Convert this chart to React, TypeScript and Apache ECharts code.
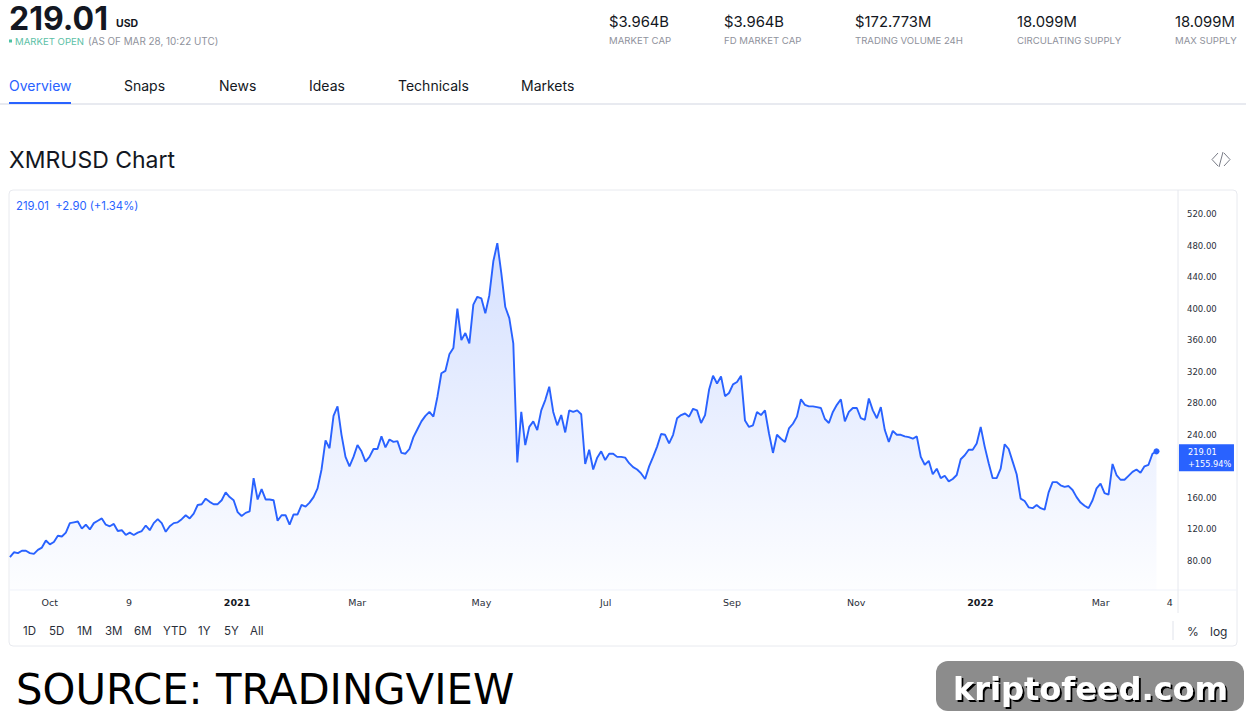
import React, { useEffect, useRef } from "react";
import * as echarts from "echarts";

const firstDate = Date.UTC(2020, 8, 11, 12);
const lastDate = Date.UTC(2022, 2, 28, 10, 22);

const pricesLate2020 = [
  85, 91, 90, 93, 93, 90, 89, 94, 97, 106,
  101, 104, 112, 111, 116, 128, 129, 130, 121, 126,
  120, 128, 131, 134, 126, 124, 127, 118, 119, 113,
  116, 113, 116, 118, 125, 119, 128, 133, 128, 117,
  124, 128, 129, 133, 138, 134, 140, 151, 152, 159,
  155, 152, 152, 157, 167, 161, 157, 142, 137, 141,
  143, 185, 158, 171, 158, 158, 157, 131, 138, 138,
  126, 139, 139, 151, 149, 154, 161, 172,
];
const pricesEarly2021 = [
  196, 233, 223, 264, 276, 240, 212, 200, 212, 227,
  219, 206, 212, 222, 222, 238, 224, 234, 231, 232,
  217, 216, 222, 237, 247, 257, 264, 269, 263, 288,
  318, 321, 342, 350, 400, 360, 369, 356, 405, 415,
  413, 394, 417, 460, 483, 445, 402, 388, 356, 205,
  269, 227, 250, 257, 246, 271, 284, 301, 269, 252,
  265, 243, 271, 269, 271, 266, 203, 221, 196, 211,
  219, 208, 216, 216, 212,
];
const pricesMid2021 = [
  212, 211, 204, 199, 196, 191, 184, 200, 212, 225,
  241, 240, 229, 240, 261, 265, 267, 263, 273, 271,
  255, 265, 297, 315, 305, 314, 289, 293, 304, 307,
  315, 258, 250, 252, 269, 265, 271, 242, 217, 240,
  235, 231, 248, 254, 263, 285, 278, 276, 276, 275,
  274, 260, 255, 269, 278, 285, 257, 269, 274, 274,
  261, 259, 286, 271, 261, 275, 246, 231, 245, 240, 240,
];
const pricesLate2021 = [
  238, 237, 235, 238, 212, 202, 207, 190, 197, 185,
  188, 181, 184, 189, 209, 214, 221, 221, 229, 250,
  225, 204, 185, 185, 197, 228, 222, 206, 190, 159,
  156, 148, 147, 151, 147, 145, 167, 180, 180, 176,
  174, 175, 170, 161, 154, 150, 147, 157, 172, 178,
  166, 164, 203, 189, 183, 183, 188, 193, 196, 192,
  200, 202, 216, 219.01,
];
const prices = [...pricesLate2020, ...pricesEarly2021, ...pricesMid2021, ...pricesLate2021];

const shownYTicks = [80, 120, 160, 240, 280, 320, 360, 400, 440, 480, 520];
const xTickDates = [
  Date.UTC(2020, 9, 1), Date.UTC(2020, 10, 9), Date.UTC(2021, 0, 1), Date.UTC(2021, 2, 1),
  Date.UTC(2021, 4, 1), Date.UTC(2021, 6, 1), Date.UTC(2021, 8, 1), Date.UTC(2021, 10, 1),
  Date.UTC(2022, 0, 1), Date.UTC(2022, 2, 1), Date.UTC(2022, 3, 4),
];
const xTickLabels = ["Oct", "9", "2021", "Mar", "May", "Jul", "Sep", "Nov", "2022", "Mar", "4"];
const lastChange = "+155.94%";

const tabs = ["Overview", "Snaps", "News", "Ideas", "Technicals", "Markets"];
const tabX = [9, 124, 219, 309, 398, 521];
const statValues = ["$3.964B", "$3.964B", "$172.773M", "18.099M", "18.099M"];
const statLabels = ["MARKET CAP", "FD MARKET CAP", "TRADING VOLUME 24H", "CIRCULATING SUPPLY", "MAX SUPPLY"];
const statX = [609, 724, 855, 1017, 1175];
const ranges = ["1D", "5D", "1M", "3M", "6M", "YTD", "1Y", "5Y", "All"];
const rangeX = [23, 49, 77, 105, 134, 163, 198, 224, 250];

const INTER = "Inter";
const BLUE = "#2962ff";
const INK = "#131722";

function txt(text: string, x: number, y: number, fontSize: number, fill: string, extra: any = {}) {
  const { fontWeight, fontFamily, z, ...rest } = extra;
  return {
    type: "text",
    x,
    y,
    z: z ?? 5,
    silent: true,
    style: {
      text,
      fill,
      fontSize,
      fontFamily: fontFamily ?? INTER,
      fontWeight: fontWeight ?? 400,
      align: "left",
      verticalAlign: "middle",
      ...rest,
    },
  };
}
function hline(x1: number, x2: number, y: number, stroke: string, lineWidth = 1) {
  return { type: "line", z: 3, silent: true, shape: { x1, y1: y, x2, y2: y }, style: { stroke, lineWidth } };
}
function vline(x: number, y1: number, y2: number, stroke: string) {
  return { type: "line", z: 3, silent: true, shape: { x1: x, y1, x2: x, y2 }, style: { stroke, lineWidth: 1 } };
}

export default function App() {
  const ref = useRef<HTMLDivElement>(null);
  useEffect(() => {
    const chart = echarts.init(ref.current!, undefined, { renderer: "svg" });
    const n = prices.length;
    const step = (lastDate - firstDate) / (n - 1);
    const data = prices.map((p, i) => [firstDate + i * step, p]);
    const last = data[n - 1];
    chart.setOption({
      animation: false,
      backgroundColor: "#ffffff",
      textStyle: { fontFamily: INTER },
      grid: { left: 9, right: 68, top: 190, bottom: 130, containLabel: false },
      xAxis: {
        type: "value",
        min: Date.UTC(2020, 8, 11, 1),
        max: Date.UTC(2022, 3, 8),
        axisLine: { show: false },
        axisTick: { show: false },
        splitLine: { show: false },
        axisLabel: {
          customValues: xTickDates,
          margin: 7,
          fontSize: 9.5,
          color: "#2a2e39",
          fontFamily: "DejaVu Sans",
          hideOverlap: false,
          formatter: (v: number) => {
            const s = xTickLabels[xTickDates.indexOf(v)] ?? "";
            return s.length === 4 ? `{b|${s}}` : s;
          },
          rich: { b: { fontWeight: 700, fontSize: 9.5, color: "#131722", fontFamily: "DejaVu Sans" } },
        },
      },
      yAxis: {
        type: "value",
        position: "right",
        min: 43.2,
        max: 550.4,
        axisLine: { show: false },
        axisTick: { show: false },
        splitLine: { show: false },
        axisLabel: {
          customValues: shownYTicks,
          margin: 9,
          fontSize: 8.5,
          color: "#2a2e39",
          fontFamily: "DejaVu Sans",
          align: "left",
          padding: [4, 0, 0, 0],
          formatter: (v: number) => v.toFixed(2),
        },
      },
      series: [
        {
          type: "line",
          data,
          showSymbol: false,
          symbol: "none",
          smooth: false,
          lineStyle: { color: BLUE, width: 1.9 },
          areaStyle: {
            color: new echarts.graphic.LinearGradient(0, 0, 0, 1, [
              { offset: 0, color: "rgba(41,98,255,0.28)" },
              { offset: 1, color: "rgba(41,98,255,0.015)" },
            ]),
          },
          markPoint: {
            silent: true,
            animation: false,
            data: [
              {
                coord: last,
                symbol: "circle",
                symbolSize: 6,
                itemStyle: { color: BLUE },
                label: { show: false },
              },
              {
                coord: last,
                symbol: "rect",
                symbolSize: [55, 27],
                symbolOffset: [50, 6.5],
                itemStyle: { color: BLUE },
                label: {
                  show: true,
                  position: [9, 2],
                  align: "left",
                  verticalAlign: "top",
                  color: "#ffffff",
                  fontSize: 8.2,
                  lineHeight: 11.5,
                  fontFamily: "DejaVu Sans",
                  formatter: () => `${prices[n - 1].toFixed(2)}\n${lastChange}`,
                },
              },
            ],
          },
        },
      ],
      graphic: {
        elements: [
          {
            type: "rect",
            z: 0,
            silent: true,
            shape: { x: 9, y: 190, width: 1228, height: 456, r: 4 },
            style: { fill: "rgba(255,255,255,0)", stroke: "#e8eaef", lineWidth: 1 },
          },
          hline(9, 1237, 590, "#f0f3fa"),
          vline(1178, 190, 613, "#e6e8ee"),
          vline(1173, 621, 640, "#e0e3eb"),
          hline(0, 1246, 104, "#e0e3eb", 1.5),
          hline(9, 71, 103, BLUE, 2),
          {
            type: "polyline",
            z: 5,
            silent: true,
            shape: { points: [[1218, 153], [1212, 159.5], [1218, 166]] },
            style: { stroke: "#787b86", lineWidth: 1, fill: "none" },
          },
          {
            type: "polyline",
            z: 5,
            silent: true,
            shape: { points: [[1224, 153], [1230, 159.5], [1224, 166]] },
            style: { stroke: "#787b86", lineWidth: 1, fill: "none" },
          },
          {
            type: "line",
            z: 5,
            silent: true,
            shape: { x1: 1219, y1: 167, x2: 1223, y2: 152 },
            style: { stroke: "#787b86", lineWidth: 1 },
          },
          txt("219.01", 9, 18, 32, INK, { fontWeight: 700 }),
          txt("USD", 116, 23.5, 10.5, INK, { fontWeight: 700 }),
          { type: "rect", z: 5, silent: true, shape: { x: 9, y: 39.5, width: 3, height: 3 }, style: { fill: "#4cc2a4" } },
          txt("MARKET OPEN", 15, 41, 9.6, "#5cbfa6"),
          txt("(AS OF MAR 28, 10:22 UTC)", 88, 41, 9.9, "#8f929c"),
          ...statValues.map((s, i) => txt(s, statX[i], 22, 14.8, INK)),
          ...statLabels.map((s, i) => txt(s, statX[i], 40.5, 9.6, "#8f929c")),
          ...tabs.map((s, i) => txt(s, tabX[i], 85.5, 14, i === 0 ? BLUE : INK)),
          txt("XMRUSD Chart", 9, 160, 23, INK),
          txt("219.01  +2.90 (+1.34%)", 16, 205.5, 11.3, BLUE),
          ...ranges.map((s, i) => txt(s, rangeX[i], 631, 11.5, "#2a2e39")),
          txt("%", 1187, 631, 12, "#2a2e39"),
          txt("log", 1210, 631, 12, "#2a2e39"),
          txt("SOURCE: TRADINGVIEW", 16, 689, 41.8, "#000000", { fontFamily: "DejaVu Sans" }),
          {
            type: "rect",
            z: 4,
            silent: true,
            shape: { x: 936, y: 661, width: 308, height: 50, r: 12 },
            style: { fill: "#8c8c8c" },
          },
          txt("kriptofeed.com", 953, 689, 32, "#ffffff", {
            fontFamily: "DejaVu Sans",
            fontWeight: 700,
            textShadowColor: "#000000",
            textShadowOffsetX: 2,
            textShadowOffsetY: 2,
            textShadowBlur: 0.5,
          }),
        ],
      },
    });
    return () => chart.dispose();
  }, []);
  return <div ref={ref} style={{ position: "fixed", left: 0, top: 0, width: 1246, height: 720 }} />;
}
